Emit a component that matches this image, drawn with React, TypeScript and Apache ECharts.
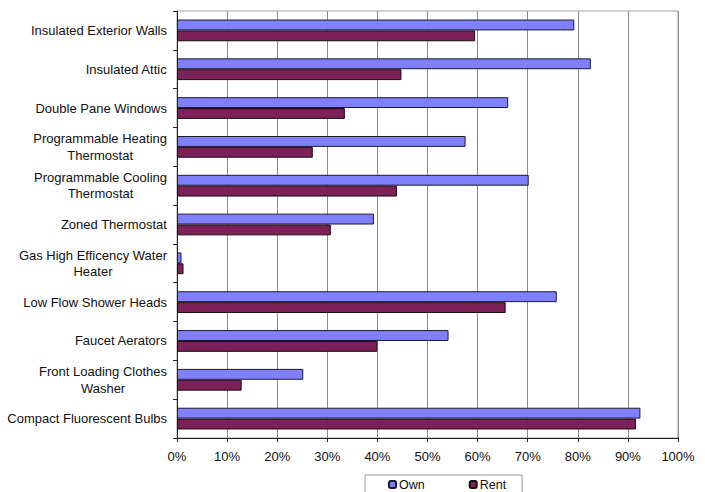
import React, { useEffect, useRef } from "react";
import * as echarts from "echarts";

// Measures, listed top to bottom as drawn
const categories: string[][] = [
  ["Insulated Exterior Walls"],
  ["Insulated Attic"],
  ["Double Pane Windows"],
  ["Programmable Heating", "Thermostat"],
  ["Programmable Cooling", "Thermostat"],
  ["Zoned Thermostat"],
  ["Gas High Efficency Water", "Heater"],
  ["Low Flow Shower Heads"],
  ["Faucet Aerators"],
  ["Front Loading Clothes", "Washer"],
  ["Compact Fluorescent Bulbs"],
];

// Share of households with each measure (%)
const ownValues: number[] = [79.3, 82.6, 66.1, 57.6, 70.2, 39.3, 0.9, 75.8, 54.2, 25.2, 92.5];
const rentValues: number[] = [59.5, 44.8, 33.5, 27.1, 43.9, 30.7, 1.3, 65.6, 40.0, 12.9, 91.6];

const seriesNames: string[] = ["Own", "Rent"];

const FONT = "'Liberation Sans', Arial, sans-serif";

export default function App() {
  const ref = useRef<HTMLDivElement>(null);

  useEffect(() => {
    if (!ref.current) return;
    const chart = echarts.init(ref.current, undefined, { renderer: "svg" });
    const labels = categories.map((lines) => lines.join("\n"));
    chart.setOption({
      animation: false,
      backgroundColor: "#ffffff",
      textStyle: { fontFamily: FONT },
      grid: {
        left: 177,
        top: 11,
        right: 27,
        bottom: 54,
        show: true,
        borderColor: "#a0a0a0",
        borderWidth: 1,
      },
      legend: {
        data: seriesNames,
        left: 365,
        top: 475,
        padding: [3, 16, 8, 23],
        itemGap: 44,
        itemWidth: 7,
        itemHeight: 7,
        borderColor: "#9a9a9a",
        borderWidth: 1,
        textStyle: { fontFamily: FONT, fontSize: 12.5, color: "#111", padding: [0, 0, 0, -2] },
      },
      xAxis: {
        type: "value",
        min: 0,
        max: 100,
        interval: 10,
        axisLine: { show: true, lineStyle: { color: "#222", width: 1 } },
        axisTick: { show: true, length: 4, lineStyle: { color: "#222" } },
        axisLabel: {
          formatter: "{value}%",
          fontFamily: FONT,
          fontSize: 13,
          color: "#111",
          margin: 12,
        },
        splitLine: { show: true, lineStyle: { color: "#8c8c8c", width: 1 } },
      },
      yAxis: {
        type: "category",
        inverse: true,
        data: labels,
        axisLine: { show: true, lineStyle: { color: "#222", width: 1 } },
        axisTick: { show: true, length: 4, lineStyle: { color: "#222" } },
        axisLabel: {
          fontFamily: FONT,
          fontSize: 13,
          color: "#111",
          margin: 10,
          align: "right",
          lineHeight: 16.5,
          formatter: (v: string) =>
            v
              .split("\n")
              .map((line) => `{c|${line}}`)
              .join("\n"),
          rich: {
            c: { align: "center", fontFamily: FONT, fontSize: 13, color: "#111", lineHeight: 16.5 },
          },
        },
      },
      series: [
        {
          name: seriesNames[0],
          type: "bar",
          data: ownValues,
          barGap: "0%",
          barCategoryGap: "44%",
          itemStyle: { color: "#8080ff", borderColor: "#1a1a2e", borderWidth: 1 },
        },
        {
          name: seriesNames[1],
          type: "bar",
          data: rentValues,
          barGap: "0%",
          barCategoryGap: "44%",
          itemStyle: { color: "#7c2258", borderColor: "#1a0a12", borderWidth: 1 },
        },
      ],
    });
    return () => chart.dispose();
  }, []);

  return (
    <div
      ref={ref}
      style={{ position: "fixed", left: 0, top: 0, width: 705, height: 492 }}
    />
  );
}
